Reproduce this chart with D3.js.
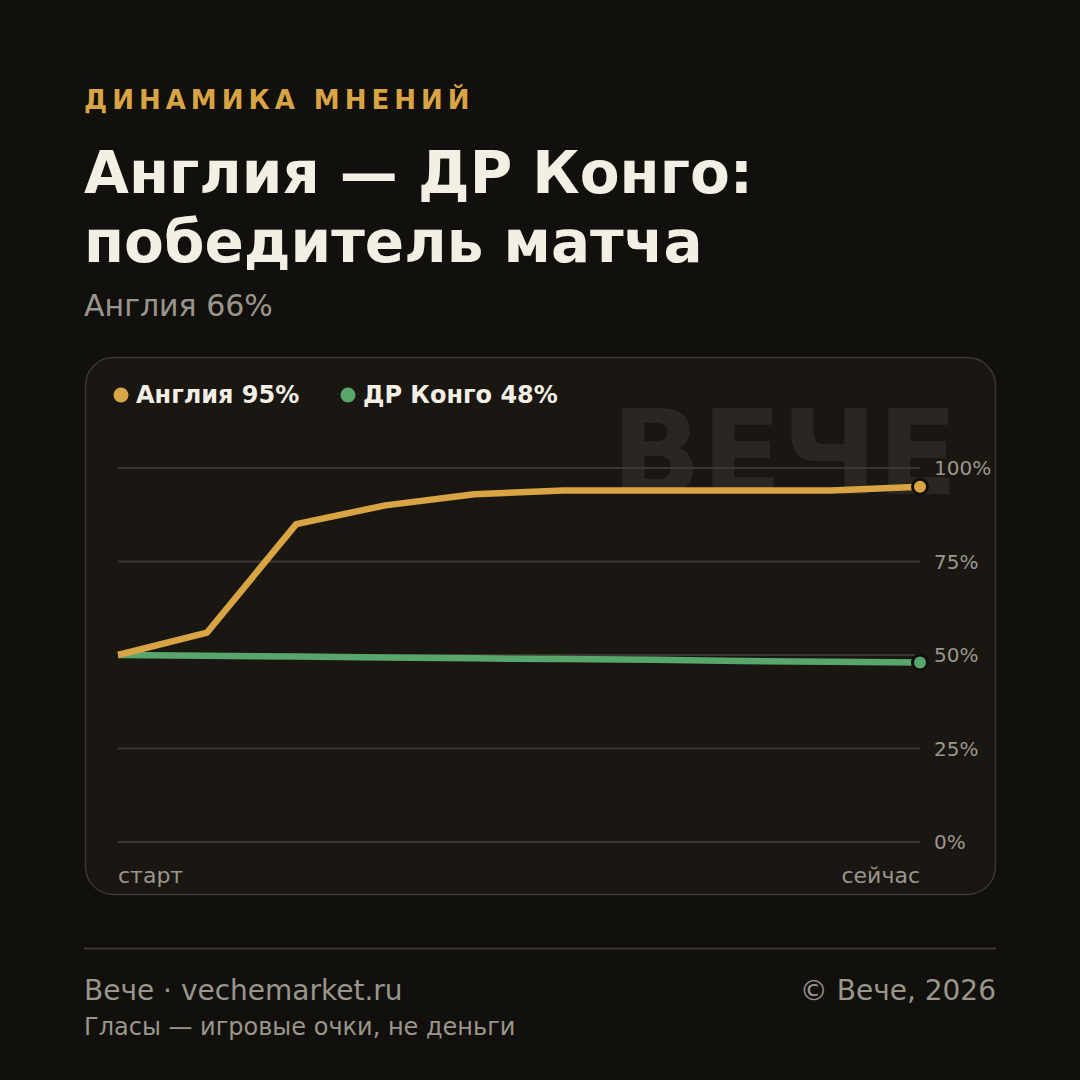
<!DOCTYPE html>
<html><head><meta charset="utf-8">
<script src="https://cdn.jsdelivr.net/npm/d3@7"></script>
<style>html,body{margin:0;padding:0;background:#12100d;}svg{display:block;}</style>
</head><body>
<svg id="c" width="1080" height="1080"></svg>
<script>
const steps = [0,1,2,3,4,5,6,7,8,9];
const englandValues = [50,56,85,90,93,94,94,94,94,95];
const congoValues = [50,49.8,49.6,49.3,49.1,48.9,48.7,48.4,48.2,48.0];
const yTicks = [0,25,50,75,100];
const xLabels = ["старт","сейчас"];
const seriesNames = ["Англия 95%","ДР Конго 48%"];
const seriesColors = ["#d9a444","#58a66c"];

const svg = d3.select("#c");
const font = "'DejaVu Sans', sans-serif";
svg.append("rect").attr("width",1080).attr("height",1080).attr("fill","#12100d");

svg.append("text").attr("x",84).attr("y",109).attr("font-family",font).attr("font-weight","bold")
  .attr("font-size",26).attr("letter-spacing",5).attr("fill","#d9a444").text("ДИНАМИКА МНЕНИЙ");
svg.append("text").attr("x",84).attr("y",193).attr("font-family",font).attr("font-weight","bold")
  .attr("font-size",58).attr("fill","#f3efe4").text("Англия — ДР Конго:");
svg.append("text").attr("x",84).attr("y",262).attr("font-family",font).attr("font-weight","bold")
  .attr("font-size",58).attr("fill","#f3efe4").text("победитель матча");
svg.append("text").attr("x",84).attr("y",316).attr("font-family",font)
  .attr("font-size",30).attr("fill","#9a968c").text("Англия 66%");

// card
svg.append("rect").attr("x",85.5).attr("y",357.5).attr("width",910).attr("height",537).attr("rx",28)
  .attr("fill","#1a1713").attr("stroke","#3a3630").attr("stroke-width",1.5);

// watermark
svg.append("text").attr("x",958).attr("y",494).attr("text-anchor","end").attr("font-family",font)
  .attr("font-weight","bold").attr("font-size",118).attr("fill","#2a2722").text("ВЕЧЕ");

const x = d3.scaleLinear().domain([0,9]).range([118,920]);
const y = d3.scaleLinear().domain([0,100]).range([842,468]);

const grid = svg.append("g");
grid.selectAll("line").data(yTicks).join("line")
  .attr("x1",118).attr("x2",920).attr("y1",d=>y(d)).attr("y2",d=>y(d))
  .attr("stroke","#3a3630").attr("stroke-width",2);
grid.selectAll("text").data(yTicks).join("text")
  .attr("x",934).attr("y",d=>y(d)+7).attr("font-family",font).attr("font-size",20)
  .attr("fill","#9a968c").text(d=>d+"%");

svg.append("text").attr("x",118).attr("y",883).attr("font-family",font).attr("font-size",22)
  .attr("fill","#9a968c").text(xLabels[0]);
svg.append("text").attr("x",920).attr("y",883).attr("text-anchor","end").attr("font-family",font).attr("font-size",22)
  .attr("fill","#9a968c").text(xLabels[1]);

const line = d3.line().x((d,i)=>x(steps[i])).y(d=>y(d));
[congoValues, englandValues].forEach((vals,k)=>{
  const c = k===0 ? seriesColors[1] : seriesColors[0];
  svg.append("path").attr("d",line(vals)).attr("fill","none").attr("stroke",c)
    .attr("stroke-width",6.5).attr("stroke-linejoin","round");
  svg.append("circle").attr("cx",x(steps[9])).attr("cy",y(vals[9])).attr("r",7.5)
    .attr("fill",c).attr("stroke","#12100d").attr("stroke-width",3);
});

// legend
const legX = [121,348];
seriesNames.forEach((n,i)=>{
  svg.append("circle").attr("cx",legX[i]).attr("cy",395).attr("r",7.5).attr("fill",seriesColors[i]);
  svg.append("text").attr("x",legX[i]+15).attr("y",403).attr("font-family",font).attr("font-weight","bold")
    .attr("font-size",24).attr("fill","#f3efe4").text(n);
});

// footer
svg.append("line").attr("x1",84).attr("x2",996).attr("y1",948.5).attr("y2",948.5).attr("stroke","#3a3630").attr("stroke-width",2);
svg.append("text").attr("x",84).attr("y",1000).attr("font-family",font).attr("font-size",28)
  .attr("fill","#9a968c").text("Вече · vechemarket.ru");
svg.append("text").attr("x",996).attr("y",1000).attr("text-anchor","end").attr("font-family",font).attr("font-size",28)
  .attr("fill","#9a968c").text("© Вече, 2026");
svg.append("text").attr("x",84).attr("y",1035).attr("font-family",font).attr("font-size",24)
  .attr("fill","#9a968c").text("Гласы — игровые очки, не деньги");
</script>
</body></html>
